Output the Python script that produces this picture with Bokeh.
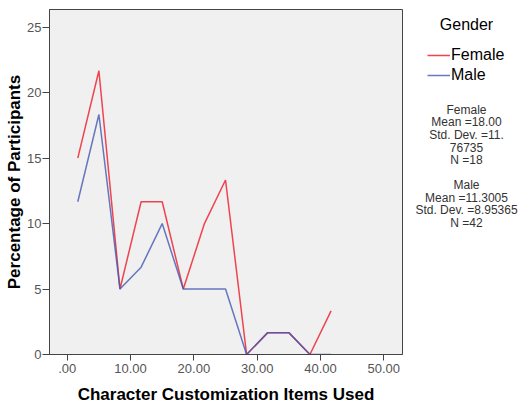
from bokeh.plotting import figure
from bokeh.layouts import row
from bokeh.models import Range1d, FixedTicker, Legend, LegendItem
from bokeh.core.properties import value
from bokeh.embed import file_html
from bokeh.resources import INLINE

# ---- data ----
items_used = [1.67, 5.0, 8.33, 11.67, 15.0, 18.33, 21.67, 25.0, 28.33, 31.67, 35.0, 38.33, 41.67]
female_pct = [15.0, 21.67, 5.0, 11.67, 11.67, 5.0, 10.0, 13.33, 0.0, 1.67, 1.67, 0.0, 3.33]
male_pct = [11.67, 18.33, 5.0, 6.67, 10.0, 5.0, 5.0, 5.0, 0.0, 1.67, 1.67, 0.0, 0.0]

x_ticks = [0, 10, 20, 30, 40, 50]
x_tick_labels = [".00", "10.00", "20.00", "30.00", "40.00", "50.00"]
y_ticks = [0, 5, 10, 15, 20, 25]

legend_title = "Gender"
series_names = ["Female", "Male"]
female_stats = ["Female", "Mean =18.00", "Std. Dev. =11.", "76735", "N =18"]
male_stats = ["Male", "Mean =11.3005", "Std. Dev. =8.95365", "N =42"]

x_title = "Character Customization Items Used"
y_title = "Percentage of Participants"

# ---- styling / layout ----
X0, X1 = -2.8, 52.95
Y0, Y1 = 0.0, 26.35
FONT = "Liberation Sans"
RED = "#EE3A46"
BLUE = "#4458B2"
W_MAIN = 404
W_SIDE = 521 - W_MAIN
H = 406
B_TOP, B_BOTTOM = 9, 52
FRAME_BOTTOM = H - B_BOTTOM

p = figure(width=W_MAIN, height=H, output_backend="svg", toolbar_location=None,
           x_range=Range1d(X0, X1), y_range=Range1d(Y0, Y1),
           min_border_left=49, min_border_right=2, min_border_top=B_TOP, min_border_bottom=B_BOTTOM)
p.background_fill_color = "#F0F0F0"
p.border_fill_color = "white"
p.outline_line_color = "#444444"
p.outline_line_width = 1
p.xgrid.visible = False
p.ygrid.visible = False

p.line(items_used, female_pct, line_color=RED, line_width=1.5, line_alpha=0.95)
p.line(items_used, male_pct, line_color=BLUE, line_width=1.5, line_alpha=0.8)

xa = p.xaxis[0]
xa.ticker = FixedTicker(ticks=x_ticks)
xa.major_label_overrides = {t: l for t, l in zip(x_ticks, x_tick_labels)}
xa.minor_tick_line_color = None
xa.major_tick_in = 0
xa.major_tick_out = 6
xa.major_label_standoff = 3
xa.major_label_text_font = FONT
xa.major_label_text_font_size = "13px"
xa.major_label_text_color = "#555555"
xa.axis_line_color = "#444444"
xa.major_tick_line_color = "#444444"
xa.axis_label = x_title
xa.axis_label_text_font = FONT
xa.axis_label_text_font_style = "bold"
xa.axis_label_text_font_size = "17px"
xa.axis_label_text_color = "black"
xa.axis_label_standoff = 9

ya = p.yaxis[0]
ya.ticker = FixedTicker(ticks=y_ticks)
ya.minor_tick_line_color = None
ya.major_tick_in = 0
ya.major_tick_out = 7
ya.major_label_standoff = 1
ya.major_label_text_font = FONT
ya.major_label_text_font_size = "13px"
ya.major_label_text_color = "#555555"
ya.axis_line_color = "#444444"
ya.major_tick_line_color = "#444444"
ya.axis_label = y_title
ya.axis_label_text_font = FONT
ya.axis_label_text_font_style = "bold"
ya.axis_label_text_font_size = "17px"
ya.axis_label_text_color = "black"
ya.axis_label_standoff = 0

# ---- side panel: legend and summary statistics (pixel-row coordinates) ----
s = figure(width=W_SIDE, height=H, output_backend="svg", toolbar_location=None,
           x_range=Range1d(W_MAIN, 521), y_range=Range1d(FRAME_BOTTOM, B_TOP),
           x_axis_type=None, y_axis_type=None,
           min_border_left=0, min_border_right=0, min_border_top=B_TOP, min_border_bottom=B_BOTTOM)
s.outline_line_color = None
s.background_fill_color = "white"
s.border_fill_color = "white"
s.xgrid.visible = False
s.ygrid.visible = False

# legend swatches: the series drawn again in this panel, where they fall outside its
# ranges (so nothing shows) but still provide the legend glyph styles
sw_f = s.line(items_used, female_pct, line_color=RED, line_width=1.5, line_alpha=0.95)
sw_m = s.line(items_used, male_pct, line_color=BLUE, line_width=1.5, line_alpha=0.8)
legend = Legend(items=[LegendItem(label=series_names[0], renderers=[sw_f]),
                       LegendItem(label=series_names[1], renderers=[sw_m])],
                location=(427 - W_MAIN, FRAME_BOTTOM - 85), padding=0, margin=0, spacing=0,
                glyph_width=23, glyph_height=20, label_height=20, label_standoff=1,
                label_text_font=FONT, label_text_font_size="16px",
                label_text_baseline="bottom", label_text_color="black",
                border_line_color=None, background_fill_alpha=0)
s.add_layout(legend)

CX = 466
s.text(x=[CX], y=[23.7], text=[legend_title], text_font=value(FONT), text_font_size="16px",
       text_align="center", text_baseline="middle", text_color="black")
s.text(x=[CX] * len(female_stats), y=[109, 121.5, 134.5, 147, 159], text=female_stats,
       text_font=value(FONT), text_font_size="12px", text_align="center",
       text_baseline="middle", text_color="#333333")
s.text(x=[CX] * len(male_stats), y=[184, 197, 209.5, 222], text=male_stats,
       text_font=value(FONT), text_font_size="12px", text_align="center",
       text_baseline="middle", text_color="#333333")

layout = row(p, s, spacing=0)
open("out.html", "w").write(file_html(layout, INLINE))
